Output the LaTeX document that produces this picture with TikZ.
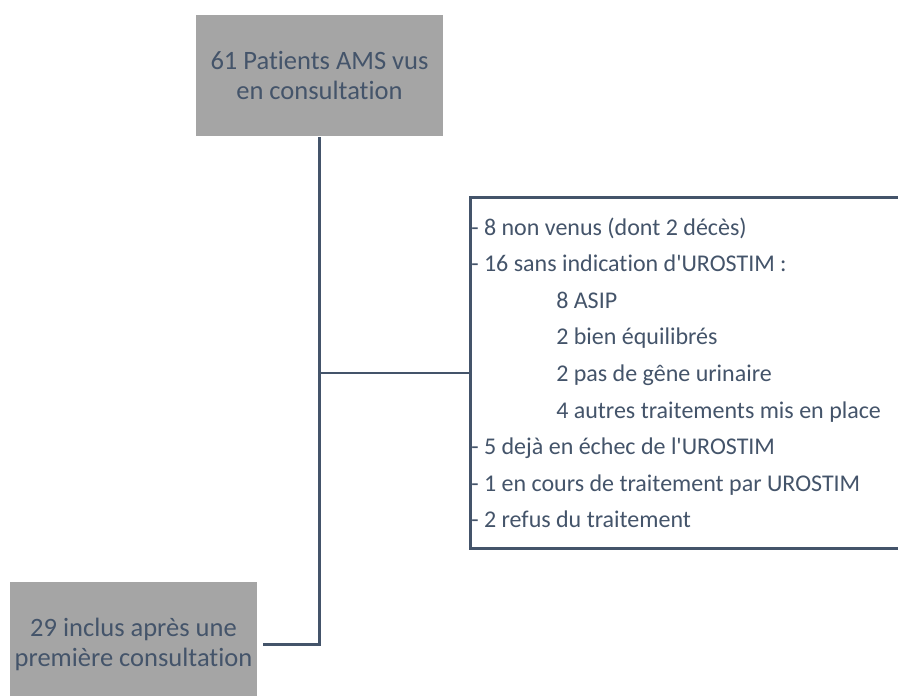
\documentclass[tikz,border=0pt]{standalone}
\usepackage{fontspec}
\setmainfont{Carlito}[Ligatures={NoCommon}]
\usetikzlibrary{positioning}

\definecolor{ardoise}{HTML}{44546A}
\definecolor{grisboite}{HTML}{A5A5A5}

% interword spaces with no stretch
\newcommand{\espacesfixes}{\spaceskip=\fontdimen2\font\relax}

\begin{document}
\begin{tikzpicture}[
      x=1pt, y=-1pt,
      line width=2.5pt,
      text=ardoise,
      boite/.style={fill=grisboite, minimum width=247pt, align=center,
        font=\fontsize{26.5}{30}\selectfont},
      liste/.style={draw=ardoise, anchor=north west, align=left,
        text width=520pt, inner xsep=1pt, minimum height=351pt,
        font=\fontsize{24}{36.6}\selectfont},
      lien/.style={draw=ardoise}]

    % page
    \useasboundingbox (0,0) rectangle (898,696);
    \clip (0,0) rectangle (898,696);
    \fill[white] (0,0) rectangle (898,696);

    % boxes
    \node (patients) at (319.5,75.5) [boite, minimum height=121pt]
      {61 Patients AMS vus\\en consultation};
    \node (inclus) at (133.5,644.5) [boite, minimum height=125pt]
      {29 inclus apr\`es une\\premi\`ere consultation};

    % exclusions
    \node (exclus) at (469,196) [liste] {\espacesfixes
      - 8 non venus (dont 2 d\'ec\`es)\\
      - 16 sans indication d\textquotesingle UROSTIM :\\
      \hspace*{85pt}8 ASIP\\
      \hspace*{85pt}2 bien \'equilibr\'es\\
      \hspace*{85pt}2 pas de g\^ene urinaire\\
      \hspace*{85pt}4 autres traitements mis en place\\
      - 5 dej\`a en \'echec de l\textquotesingle UROSTIM\\
      - 1 en cours de traitement par UROSTIM\\
      - 2 refus du traitement};

    % wiring
    \draw[lien] (patients.south) -- (patients.south |- inclus.east)
      -- ([xshift=5pt]inclus.east);
    \draw[lien] (patients.south |- exclus.west) -- (exclus.west);

  \end{tikzpicture}
\end{document}
